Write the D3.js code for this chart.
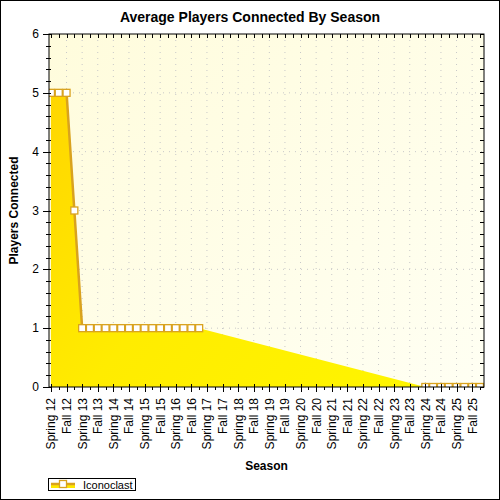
<!DOCTYPE html>
<html>
<head>
<meta charset="utf-8">
<script src="https://cdn.jsdelivr.net/npm/d3@7"></script>
<style>
  html, body { margin: 0; padding: 0; background: #fff; }
  svg { display: block; font-family: "Liberation Sans", Arial, sans-serif; }
</style>
</head>
<body>
<svg id="chart" width="500" height="500"></svg>
<script>
// ---- data ----
const seasons = ["Spring 12","Fall 12","Spring 13","Fall 13","Spring 14","Fall 14","Spring 15","Fall 15",
  "Spring 16","Fall 16","Spring 17","Fall 17","Spring 18","Fall 18","Spring 19","Fall 19",
  "Spring 20","Fall 20","Spring 21","Fall 21","Spring 22","Fall 22","Spring 23","Fall 23",
  "Spring 24","Fall 24","Spring 25","Fall 25"];
// one value per quarter (two per season label); null = no data
const players = [5,5,5,3,
  1,1,1,1,1,1,1,1,1,1,1,1,1,1,1,1,
  null,null,null,null,null,null,null,null,null,null,null,null,null,null,
  null,null,null,null,null,null,null,null,null,null,null,null,null,null,
  0,0,0,0,0,0,0,0];
const seriesName = "Iconoclast";
const yTicks = [0,1,2,3,4,5,6];

// ---- layout ----
const W = 500, H = 500;
const L = 49, R = 484, T = 34, B = 387;
const lineColor = "#D9A21E";

const svg = d3.select("#chart");
const defs = svg.append("defs");

const bgGrad = defs.append("linearGradient").attr("id","bgGrad")
  .attr("x1","0").attr("y1","0").attr("x2","1").attr("y2","1");
bgGrad.append("stop").attr("offset","0").attr("stop-color","#FFFCDC");
bgGrad.append("stop").attr("offset","1").attr("stop-color","#FFFFF3");

const areaGrad = defs.append("linearGradient").attr("id","areaGrad")
  .attr("gradientUnits","userSpaceOnUse")
  .attr("x1",L).attr("y1",T).attr("x2",R).attr("y2",B);
areaGrad.append("stop").attr("offset","0").attr("stop-color","#FFD200");
areaGrad.append("stop").attr("offset","0.45").attr("stop-color","#FFEC00");
areaGrad.append("stop").attr("offset","1").attr("stop-color","#FFF700");

defs.append("clipPath").attr("id","plotClip")
  .append("rect").attr("x",L).attr("y",T).attr("width",R-L).attr("height",B-T);

// outer border
svg.append("rect").attr("x",0.5).attr("y",0.5).attr("width",W-1).attr("height",H-1)
  .attr("fill","#fff").attr("stroke","#000");

// scales
const x = d3.scaleLinear().domain([-0.25, 55.52]).range([L, R]);
const y = d3.scaleLinear().domain([0, 6]).range([B, T]);

// plot background
svg.append("rect").attr("x",L).attr("y",T).attr("width",R-L).attr("height",B-T)
  .attr("fill","url(#bgGrad)");

// grid
const grid = svg.append("g").attr("stroke","#c8c8c8").attr("stroke-dasharray","1,5");
seasons.forEach((s,i) => {
  if (i === 0) return;
  grid.append("line").attr("x1",x(2*i)).attr("x2",x(2*i)).attr("y1",T).attr("y2",B);
});
yTicks.forEach(v => {
  if (v === 0 || v === 6) return;
  grid.append("line").attr("x1",L).attr("x2",R).attr("y1",y(v)).attr("y2",y(v));
});

// data
const idx = players.map((v,i) => ({i, v}));
const defined = idx.filter(d => d.v !== null);

const plot = svg.append("g").attr("clip-path","url(#plotClip)");
plot.append("path").datum(defined)
  .attr("fill","url(#areaGrad)")
  .attr("d", d3.area().x(d => x(d.i)).y0(y(0)).y1(d => y(d.v)));
plot.append("path").datum(idx)
  .attr("fill","none").attr("stroke",lineColor).attr("stroke-width",2.5)
  .attr("d", d3.line().defined(d => d.v !== null).x(d => x(d.i)).y(d => y(d.v)));
plot.selectAll("rect.mk").data(defined).join("rect").attr("class","mk")
  .attr("x", d => x(d.i) - 3.5).attr("y", d => y(d.v) - 3.5)
  .attr("width",7).attr("height",7)
  .attr("fill","#fff").attr("stroke",lineColor).attr("stroke-width",1.3);

// frame
svg.append("rect").attr("x",L).attr("y",T).attr("width",R-L).attr("height",B-T)
  .attr("fill","none").attr("stroke","#000").attr("stroke-width",1);

// ticks
const tk = svg.append("g").attr("stroke","#000").attr("stroke-width",1);
// y ticks (major+minor every 0.2)
for (let k = 0; k <= 30; k++) {
  const v = k / 5;
  const yy = Math.round(y(v)) + 0.5;
  const major = k % 5 === 0;
  tk.append("line").attr("x1", L - (major ? 6 : 3)).attr("x2", L + 2).attr("y1",yy).attr("y2",yy);
  tk.append("line").attr("x1", R - 4).attr("x2", R).attr("y1",yy).attr("y2",yy);
}
// x ticks (major at seasons, minor at quarter)
for (let i = 0; i <= 55; i++) {
  const xx = Math.round(x(i)) + 0.5;
  const major = i % 2 === 0;
  tk.append("line").attr("x1",xx).attr("x2",xx).attr("y1", major ? B - 3 : B).attr("y2", major ? B + 5 : B + 3);
  tk.append("line").attr("x1",xx).attr("x2",xx).attr("y1",T).attr("y2",T + 4);
}

// y tick labels
svg.append("g").selectAll("text").data(yTicks).join("text")
  .attr("x", L - 10).attr("y", d => y(d) + 4)
  .attr("text-anchor","end").attr("font-size",12).attr("fill","#000")
  .text(d => d);

// x tick labels
svg.append("g").selectAll("text").data(seasons).join("text")
  .attr("transform", (d,i) => `translate(${x(2*i) + 4.5},${B + 11}) rotate(-90)`)
  .attr("text-anchor","end").attr("font-size",12).attr("fill","#000")
  .text(d => d);

// titles
svg.append("text").attr("x",250).attr("y",22).attr("text-anchor","middle")
  .attr("font-size",14).attr("font-weight","bold").text("Average Players Connected By Season");
svg.append("text").attr("transform",`translate(18,${(T+B)/2}) rotate(-90)`)
  .attr("text-anchor","middle").attr("font-size",12).attr("font-weight","bold").text("Players Connected");
svg.append("text").attr("x",(L+R)/2).attr("y",470).attr("text-anchor","middle")
  .attr("font-size",12).attr("font-weight","bold").text("Season");

// legend
const lg = svg.append("g");
lg.append("rect").attr("x",48.5).attr("y",478.5).attr("width",87).attr("height",12)
  .attr("fill","#fff").attr("stroke","#000");
lg.append("rect").attr("x",51).attr("y",484).attr("width",24).attr("height",4).attr("fill","#FFE800");
lg.append("line").attr("x1",51).attr("x2",75).attr("y1",484).attr("y2",484)
  .attr("stroke",lineColor).attr("stroke-width",2.5);
lg.append("rect").attr("x",59.5).attr("y",480.5).attr("width",7).attr("height",7)
  .attr("fill","#fff").attr("stroke",lineColor).attr("stroke-width",1.3);
lg.append("text").attr("x",83).attr("y",488.5).attr("font-size",11).text(seriesName);
</script>
</body>
</html>
